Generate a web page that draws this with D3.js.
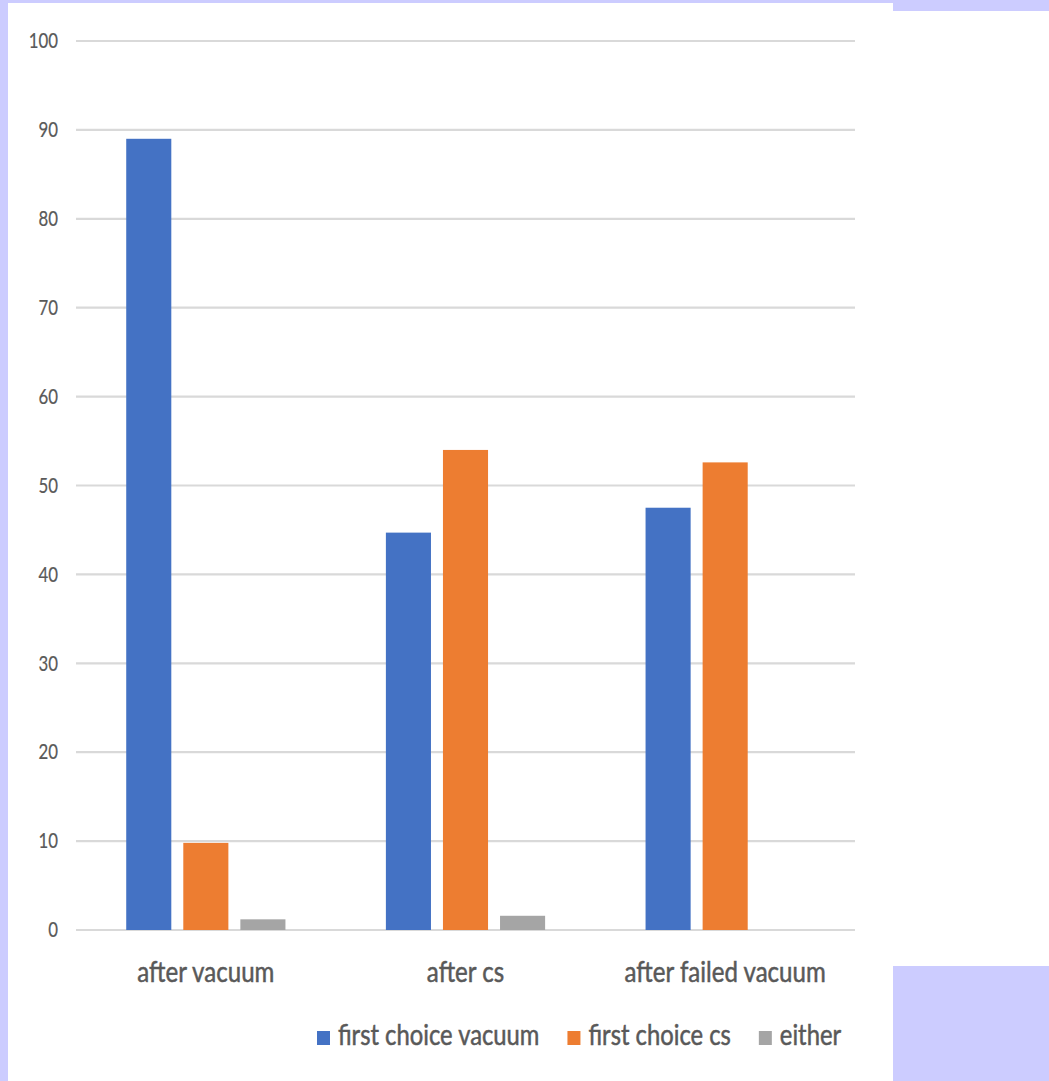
<!DOCTYPE html>
<html>
<head>
<meta charset="utf-8">
<script src="https://cdn.jsdelivr.net/npm/d3@7"></script>
<style>
  html, body { margin: 0; padding: 0; background: #ccccff; }
  svg { display: block; }
  text { font-family: Lato, "Open Sans", sans-serif; fill: #595959; }
</style>
</head>
<body>
<svg id="chart" width="1049" height="1081"></svg>
<script>
const categories = ["after vacuum", "after cs", "after failed vacuum"];
const seriesNames = ["first choice vacuum", "first choice cs", "either"];
const firstChoiceVacuum = [89, 44.7, 47.5];
const firstChoiceCs = [9.8, 54.0, 52.6];
const either = [1.2, 1.6, 0];
const seriesColors = ["#4472C4", "#ED7D31", "#A5A5A5"];
const tickValues = [0, 10, 20, 30, 40, 50, 60, 70, 80, 90, 100];

const seriesValues = [firstChoiceVacuum, firstChoiceCs, either];
const FONT = 'Lato, "Open Sans", sans-serif';

const svg = d3.select("#chart");

// white panels over lavender background
svg.append("rect").attr("x", 8).attr("y", 3).attr("width", 885).attr("height", 1078).attr("fill", "#ffffff");
svg.append("rect").attr("x", 893).attr("y", 11).attr("width", 156).attr("height", 955).attr("fill", "#ffffff");

const plotLeft = 76, plotRight = 855;
const y = d3.scaleLinear().domain([0, 100]).range([930, 41]);
const x0 = d3.scaleBand().domain(categories).range([plotLeft, plotRight]).padding(0);
const x1 = d3.scaleBand().domain(seriesNames).range([0, x0.bandwidth()])
  .paddingInner(0.21).paddingOuter(0.88);

// gridlines
svg.append("g").selectAll("line").data(tickValues).join("line")
  .attr("x1", plotLeft).attr("x2", plotRight)
  .attr("y1", d => y(d)).attr("y2", d => y(d))
  .attr("stroke", "#d9d9d9").attr("stroke-width", 2.2);

// y tick labels (condensed look)
const yAxis = d3.axisLeft(y).tickValues(tickValues).tickSize(0).tickPadding(0);
const yg = svg.append("g").attr("transform", "translate(58,0)").call(yAxis);
yg.select(".domain").remove();
yg.attr("font-family", FONT);
yg.selectAll("text").attr("font-size", 21).attr("fill", "#595959")
  .attr("stroke", "#595959").attr("stroke-width", 0.2)
  .attr("transform", "scale(0.8,1)");

// bars
const groups = svg.append("g").selectAll("g").data(categories).join("g")
  .attr("transform", d => `translate(${x0(d)},0)`);
groups.selectAll("rect")
  .data((c, i) => seriesNames.map((s, j) => ({ s, v: seriesValues[j][i], color: seriesColors[j] })))
  .join("rect")
  .attr("x", d => x1(d.s))
  .attr("width", x1.bandwidth())
  .attr("y", d => y(d.v))
  .attr("height", d => y(0) - y(d.v))
  .attr("fill", d => d.color);

// category labels
const xAxis = d3.axisBottom(x0).tickSize(0).tickPadding(0);
const xg = svg.append("g").attr("transform", "translate(0,930)").call(xAxis);
xg.select(".domain").remove();
xg.attr("font-family", FONT);
xg.selectAll("text").attr("font-size", 28).attr("fill", "#595959").attr("dy", null).attr("y", 52)
  .attr("stroke", "#595959").attr("stroke-width", 0.5)
  .attr("transform", "scale(0.86,1)");

// legend
const sx = 0.85;
const legend = svg.append("g").attr("transform", "translate(317,0)");
let lx = 0;
seriesNames.forEach((name, j) => {
  const g = legend.append("g").attr("transform", `translate(${lx},0)`);
  g.append("rect").attr("x", 0).attr("y", 1031).attr("width", 13).attr("height", 14).attr("fill", seriesColors[j]);
  const t = g.append("text").attr("transform", `translate(21,1045) scale(${sx},1)`)
    .attr("font-size", 28).attr("stroke", "#595959").attr("stroke-width", 0.5).text(name);
  lx += 21 + t.node().getComputedTextLength() * sx + 28;
});
</script>
</body>
</html>
